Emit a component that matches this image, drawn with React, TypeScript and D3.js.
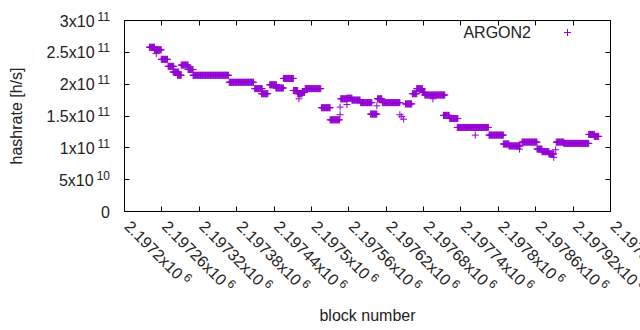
import React, { useEffect, useRef } from "react";
import * as d3 from "d3";

// runs of blocks where the hashrate stays flat (value in 1e11 h/s)
const runStart = [
  2197240, 2197248, 2197259, 2197270, 2197278, 2197285, 2197291, 2197302, 2197310,
  2197368, 2197409, 2197420, 2197433, 2197443, 2197455, 2197471, 2197478, 2197485,
  2197490, 2197516, 2197530, 2197547, 2197557, 2197565, 2197579, 2197595, 2197606,
  2197614, 2197651, 2197662, 2197669, 2197678, 2197682, 2197712, 2197722, 2197734,
  2197785, 2197808, 2197817, 2197838, 2197862, 2197870, 2197881, 2197893, 2197905,
  2197945, 2197954,
];
const runEnd = [
  2197248, 2197259, 2197269, 2197279, 2197287, 2197291, 2197302, 2197310, 2197367,
  2197407, 2197421, 2197430, 2197444, 2197455, 2197471, 2197478, 2197485, 2197489,
  2197515, 2197530, 2197545, 2197557, 2197565, 2197578, 2197597, 2197605, 2197613,
  2197642, 2197661, 2197669, 2197678, 2197682, 2197714, 2197721, 2197735, 2197784,
  2197808, 2197817, 2197835, 2197862, 2197870, 2197881, 2197889, 2197905, 2197945,
  2197954, 2197961,
];
const runValue = [
  2.58, 2.54, 2.39, 2.28, 2.19, 2.14, 2.3, 2.23, 2.14,
  2.03, 1.93, 1.85, 1.99, 1.94, 2.09, 1.9, 1.85, 1.87,
  1.93, 1.63, 1.44, 1.77, 1.78, 1.75, 1.71, 1.53, 1.77,
  1.71, 1.69, 1.85, 1.93, 1.87, 1.83, 1.51, 1.46, 1.32,
  1.2, 1.06, 1.03, 1.09, 0.98, 0.94, 0.905, 1.09, 1.07,
  1.21, 1.18,
];

// odd single readings off the runs
const singleBlock = [
  2197251, 2197480, 2197546, 2197546, 2197557, 2197605, 2197642, 2197645,
  2197648, 2197695, 2197763, 2197834, 2197889, 2197892,
];
const singleValue = [
  2.48, 1.77, 1.64, 1.52, 1.68, 1.66, 1.52, 1.49,
  1.45, 1.77, 1.2, 0.98, 0.85, 0.97,
];

const xTicks = [
  2197200, 2197260, 2197320, 2197380, 2197440, 2197500, 2197560,
  2197620, 2197680, 2197740, 2197800, 2197860, 2197920, 2197980,
];
const xTickLabels = [
  "2.1972", "2.19726", "2.19732", "2.19738", "2.19744", "2.1975", "2.19756",
  "2.19762", "2.19768", "2.19774", "2.1978", "2.19786", "2.19792", "2.19798",
];
const yTicks = [0, 0.5e11, 1e11, 1.5e11, 2e11, 2.5e11, 3e11];
const yTickLabels = ["0", "5", "1", "1.5", "2", "2.5", "3"];
const yTickExps = ["", "10", "11", "11", "11", "11", "11"];

const App = () => {
  const svgRef = useRef<SVGSVGElement>(null);

  useEffect(() => {
    const w = 640;
    const h = 330;
    const left = 124.5;
    const right = 610.5;
    const top = 20.5;
    const bottom = 211.5;
    const color = "#9400d3";
    const font = "'Liberation Sans', Arial, sans-serif";

    const svg = d3.select(svgRef.current);
    svg.selectAll("*").remove();
    svg.attr("width", w).attr("height", h).style("background", "white");

    const x = d3.scaleLinear().domain([2197200, 2197980]).range([left, right]);
    const y = d3.scaleLinear().domain([0, 3e11]).range([bottom, top]);

    const pts: { b: number; v: number }[] = [];
    runStart.forEach((s, i) => {
      for (let b = s; b <= runEnd[i]; b++) pts.push({ b, v: runValue[i] * 1e11 });
    });
    singleBlock.forEach((b, i) => pts.push({ b, v: singleValue[i] * 1e11 }));

    const plus = "M-3.5,0H3.5M0,-3.5V3.5";

    // ticks (mirrored, pointing in)
    const tl = 5;
    const g = svg.append("g").attr("stroke", "black").attr("stroke-width", 1);
    xTicks.forEach((t) => {
      const px = Math.round(x(t) - 0.5) + 0.5;
      g.append("line").attr("x1", px).attr("x2", px).attr("y1", bottom).attr("y2", bottom - tl);
      g.append("line").attr("x1", px).attr("x2", px).attr("y1", top).attr("y2", top + tl);
    });
    yTicks.forEach((t) => {
      const py = Math.round(y(t) - 0.5) + 0.5;
      g.append("line").attr("x1", left).attr("x2", left + tl).attr("y1", py).attr("y2", py);
      g.append("line").attr("x1", right).attr("x2", right - tl).attr("y1", py).attr("y2", py);
    });

    // points
    svg
      .append("g")
      .selectAll("path")
      .data(pts)
      .join("path")
      .attr("d", plus)
      .attr("transform", (d) => `translate(${x(d.b)},${y(d.v)})`)
      .attr("fill", "none")
      .attr("stroke", color)
      .attr("stroke-width", 1);

    // frame
    svg
      .append("rect")
      .attr("x", left)
      .attr("y", top)
      .attr("width", right - left)
      .attr("height", bottom - top)
      .attr("fill", "none")
      .attr("stroke", "black");

    // y tick labels
    const yl = svg.append("g").attr("font-family", font).attr("font-size", 16).attr("fill", "#222");
    yTicks.forEach((t, i) => {
      const txt = yl
        .append("text")
        .attr("x", 110)
        .attr("y", y(t) + 6)
        .attr("text-anchor", "end")
        .text(yTickExps[i] ? yTickLabels[i] + "x10" : yTickLabels[i]);
      if (yTickExps[i]) {
        txt.append("tspan").attr("dx", 3).attr("dy", -6).attr("font-size", 12).text(yTickExps[i]);
      }
    });

    // x tick labels, rotated (last one runs off the page, as in the original)
    const xl = svg.append("g").attr("font-family", font).attr("font-size", 16).attr("fill", "#222");
    xTicks.forEach((t, i) => {
      const txt = xl
        .append("text")
        .attr("transform", `translate(${x(t) - 1},${bottom + 16}) rotate(45)`)
        .text(xTickLabels[i] + "x10");
      txt.append("tspan").attr("dx", 3).attr("dy", -6).attr("font-size", 12).text("6");
    });

    // axis titles
    svg
      .append("text")
      .attr("transform", `translate(22,${(top + bottom) / 2}) rotate(-90)`)
      .attr("text-anchor", "middle")
      .attr("font-family", font)
      .attr("font-size", 16)
      .attr("fill", "#222")
      .text("hashrate [h/s]");
    svg
      .append("text")
      .attr("x", (left + right) / 2)
      .attr("y", 321)
      .attr("text-anchor", "middle")
      .attr("font-family", font)
      .attr("font-size", 16)
      .attr("fill", "#222")
      .text("block number");

    // key
    svg
      .append("text")
      .attr("x", 531)
      .attr("y", 37.5)
      .attr("text-anchor", "end")
      .attr("font-family", font)
      .attr("font-size", 16)
      .attr("fill", "#222")
      .text("ARGON2");
    svg
      .append("path")
      .attr("d", plus)
      .attr("transform", "translate(567.5,32.5)")
      .attr("fill", "none")
      .attr("stroke", color);
  }, []);

  return (
    <div style={{ position: "absolute", left: 0, top: 0 }}>
      <svg ref={svgRef}></svg>
    </div>
  );
};

export default App;
